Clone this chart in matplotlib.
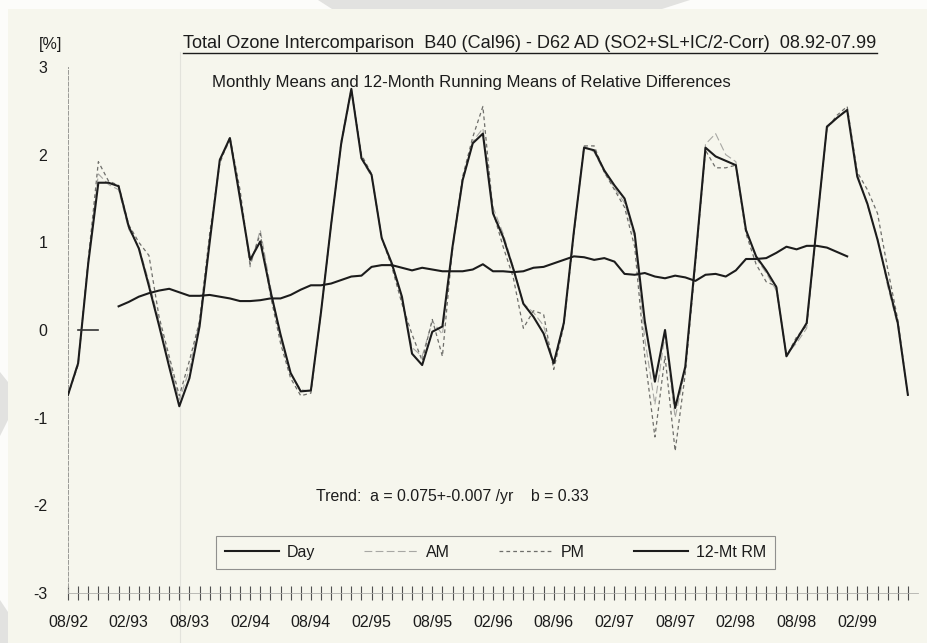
import matplotlib
matplotlib.use("Agg")
import matplotlib.pyplot as plt
from matplotlib.lines import Line2D
from matplotlib.patches import Rectangle, Polygon

plt.rcParams["font.family"] = ["Liberation Sans", "DejaVu Sans"]

# monthly relative differences B40 - D62 [%], 08/92 .. 07/99
months = list(range(84))
day = [-0.74, -0.38, 0.76, 1.68, 1.68, 1.64, 1.18, 0.93, 0.50, 0.05,
       -0.42, -0.87, -0.55, 0.04, 1.00, 1.94, 2.19, 1.50, 0.80, 1.01,
       0.45, -0.05, -0.49, -0.70, -0.69, 0.20, 1.20, 2.13, 2.75, 1.96,
       1.77, 1.05, 0.76, 0.38, -0.27, -0.40, -0.02, 0.04, 0.95, 1.71,
       2.13, 2.24, 1.33, 1.06, 0.70, 0.30, 0.15, -0.04, -0.38, 0.08,
       1.13, 2.08, 2.05, 1.82, 1.65, 1.50, 1.10, 0.10, -0.59, 0.00,
       -0.89, -0.42, 0.80, 2.08, 1.98, 1.93, 1.88, 1.14, 0.84, 0.68,
       0.49, -0.30, -0.11, 0.08, 1.20, 2.32, 2.42, 2.51, 1.75, 1.44,
       1.03, 0.55, 0.08, -0.74]
am = [-0.74, -0.36, 0.80, 1.78, 1.66, 1.60, 1.15, 0.95, 0.55, 0.10,
      -0.35, -0.80, -0.45, 0.10, 1.05, 1.95, 2.15, 1.55, 0.72, 1.14,
      0.50, -0.10, -0.50, -0.68, -0.70, 0.20, 1.20, 2.10, 2.72, 1.95,
      1.75, 1.05, 0.75, 0.35, -0.20, -0.30, 0.10, -0.05, 0.90, 1.70,
      2.15, 2.30, 1.40, 1.10, 0.72, 0.30, 0.20, 0.05, -0.38, 0.10,
      1.15, 2.10, 2.03, 1.80, 1.62, 1.45, 1.05, -0.10, -0.85, -0.05,
      -1.00, -0.45, 0.80, 2.12, 2.24, 2.00, 1.92, 1.15, 0.82, 0.65,
      0.45, -0.28, -0.15, 0.02, 1.20, 2.30, 2.42, 2.52, 1.78, 1.42,
      1.05, 0.50, 0.05, -0.74]
pm = [-0.74, -0.40, 0.80, 1.92, 1.70, 1.65, 1.20, 1.00, 0.85, 0.15,
      -0.30, -0.75, -0.35, 0.10, 1.10, 1.90, 2.20, 1.60, 0.75, 1.10,
      0.40, -0.15, -0.55, -0.75, -0.72, 0.20, 1.20, 2.15, 2.75, 2.00,
      1.78, 1.05, 0.72, 0.30, -0.05, -0.35, 0.12, -0.30, 0.95, 1.75,
      2.20, 2.55, 1.35, 0.95, 0.60, 0.02, 0.22, 0.18, -0.45, 0.05,
      1.10, 2.10, 2.10, 1.80, 1.60, 1.40, 0.95, -0.30, -1.22, -0.30,
      -1.38, -0.50, 0.75, 2.05, 1.85, 1.85, 1.88, 1.10, 0.75, 0.55,
      0.50, -0.30, -0.08, 0.05, 1.20, 2.30, 2.45, 2.55, 1.80, 1.60,
      1.33, 0.70, 0.12, -0.74]

# 12-month running mean, months 5 .. 77
rm_months = list(range(5, 78))
rm = [0.27, 0.32, 0.38, 0.42, 0.45, 0.47, 0.43, 0.39, 0.39, 0.40,
      0.38, 0.36, 0.33, 0.33, 0.34, 0.36, 0.36, 0.40, 0.46, 0.51,
      0.51, 0.53, 0.57, 0.61, 0.62, 0.72, 0.74, 0.74, 0.71, 0.68,
      0.71, 0.69, 0.67, 0.67, 0.67, 0.69, 0.75, 0.67, 0.67, 0.66,
      0.67, 0.71, 0.72, 0.76, 0.80, 0.84, 0.83, 0.80, 0.82, 0.78,
      0.64, 0.63, 0.65, 0.61, 0.59, 0.62, 0.60, 0.56, 0.63, 0.64,
      0.61, 0.68, 0.81, 0.81, 0.82, 0.88, 0.95, 0.92, 0.96, 0.96,
      0.94, 0.89, 0.84]

# short zero marker near the start
zero_months = [1, 3]
zero_vals = [0.0, 0.0]

tick_labels = ["08/92", "02/93", "08/93", "02/94", "08/94", "02/95", "08/95",
               "02/96", "08/96", "02/97", "08/97", "02/98", "08/98", "02/99"]

paper = "#f6f6ed"
ink = "#1c1c1c"
W, H = 927, 643


def px(x, y):
    # pixel position (from top left) -> figure fraction
    return (x / W, 1 - y / H)


fig = plt.figure(figsize=(W / 100, H / 100), dpi=100, facecolor="#fcfcfa")
fig.patches.append(Rectangle(px(8, 643), 1, 1 - 9 / H, transform=fig.transFigure,
                             facecolor=paper, edgecolor="none", zorder=-10))
# pale scan shadows along the paper margins and the fold line
for pts in ([(318, 0), (690, 0), (662, 9), (332, 9)],
            [(0, 372), (8, 382), (8, 420), (0, 436)],
            [(0, 600), (8, 612), (8, 643), (0, 643)]):
    fig.patches.append(Polygon([px(*p) for p in pts], closed=True, transform=fig.transFigure,
                               facecolor="#e2e2e0", edgecolor="none", zorder=-9))
fig.add_artist(Line2D([180 / W, 180 / W], [0, 1 - 52 / H], transform=fig.transFigure,
                      color="#e3e3dc", lw=0.8, zorder=-8))

ax = fig.add_axes([68 / W, 1 - 593 / H, 850 / W, 526 / H])
ax.set_facecolor("none")

ax.plot(months, am, color="#a8a8a4", lw=0.8, dashes=(7, 3), zorder=2)
ax.plot(months, pm, color="#6e6e6a", lw=0.9, dashes=(3, 2.5), zorder=3)
ax.plot(months, day, color=ink, lw=1.5, zorder=4)
ax.plot(rm_months, rm, color=ink, lw=1.5, zorder=4)
ax.plot(zero_months, zero_vals, color="#333333", lw=1.2, zorder=4)

ax.set_xlim(0, 84)
ax.set_ylim(-3, 3)
ax.set_yticks([-3, -2, -1, 0, 1, 2, 3])
ax.set_yticklabels(["-3", "-2", "-1", "0", "1", "2", "3"])
ax.set_xticks(months)
ax.set_xticklabels([tick_labels[m // 6] if m % 6 == 0 and m // 6 < len(tick_labels) else ""
                    for m in months])
ax.tick_params(axis="y", length=0, pad=15, labelsize=11.5, labelcolor=ink)
ax.tick_params(axis="x", direction="inout", length=10, width=0.8, color="#505050",
               pad=11, labelsize=11.5, labelcolor=ink)

for s in ("top", "right"):
    ax.spines[s].set_visible(False)
ax.spines["left"].set_color("#9a9a96")
ax.spines["left"].set_linestyle((0, (4, 2)))
ax.spines["left"].set_linewidth(0.7)
ax.spines["bottom"].set_color("#b0b0ac")
ax.spines["bottom"].set_linewidth(0.6)

ax.text(0.452, 0.184, "Trend:  a = 0.075+-0.007 /yr    b = 0.33", transform=ax.transAxes,
        ha="center", va="center", fontsize=11.4, color=ink)

handles = [
    Line2D([], [], color=ink, lw=1.5),
    Line2D([], [], color="#a8a8a4", lw=0.8, dashes=(7, 3)),
    Line2D([], [], color="#6e6e6a", lw=0.9, dashes=(3, 2.5)),
    Line2D([], [], color=ink, lw=1.5),
]
leg = ax.legend(handles, ["Day", "AM", "PM", "12-Mt RM"], ncol=4, mode="expand",
                loc="lower left", bbox_to_anchor=(0.174, 0.046, 0.658, 0.076),
                borderaxespad=0, frameon=True, fancybox=False, fontsize=11.5,
                handlelength=3.4, handletextpad=0.5, borderpad=0.55)
leg.get_frame().set_edgecolor("#777777")
leg.get_frame().set_linewidth(0.8)
leg.get_frame().set_facecolor("none")
for t in leg.get_texts():
    t.set_color(ink)

fig.text(*px(51, 45), "[%]", ha="center", va="center", fontsize=11.5, color=ink)
title = fig.text(*px(530, 43),
                 "Total Ozone Intercomparison  B40 (Cal96) - D62 AD (SO2+SL+IC/2-Corr)  08.92-07.99",
                 ha="center", va="center", fontsize=13.1, color=ink)
fig.text(*px(471, 82), "Monthly Means and 12-Month Running Means of Relative Differences",
         ha="center", va="center", fontsize=12.1, color=ink)

# underline the title
fig.canvas.draw()
bb = title.get_window_extent().transformed(fig.transFigure.inverted())
fig.add_artist(Line2D([bb.x0, bb.x1], [bb.y0 - 0.002, bb.y0 - 0.002], transform=fig.transFigure,
                      color=ink, lw=1.0))

fig.savefig("out.png", dpi=100, facecolor=fig.get_facecolor())
